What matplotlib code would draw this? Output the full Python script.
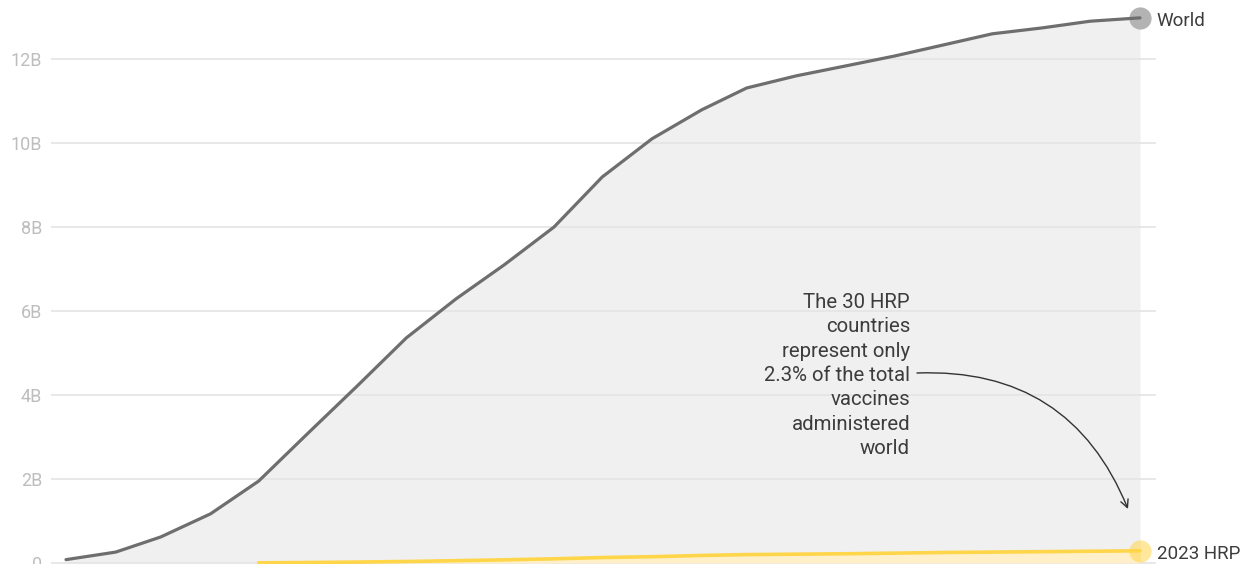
import datetime as dt
import matplotlib
matplotlib.use("Agg")
import matplotlib.pyplot as plt
import matplotlib.dates as mdates

plt.rcParams["font.family"] = ["Roboto", "DejaVu Sans"]

nan = float("nan")

# cumulative doses administered, first day of each month, in billions
months = [dt.date(2021 + (m // 12), m % 12 + 1, 1) for m in range(23)]
world = [0.08, 0.26, 0.62, 1.17, 1.95, 3.10, 4.20, 5.36, 6.29, 7.10, 8.00, 9.19,
         10.10, 10.79, 11.31, 11.60, 11.83, 12.07, 12.33, 12.60, 12.74, 12.90, 12.98]
hrp = [nan, nan, nan, nan, 0.004, 0.012, 0.022, 0.036, 0.055, 0.075, 0.10, 0.13,
       0.15, 0.18, 0.20, 0.21, 0.22, 0.235, 0.25, 0.26, 0.27, 0.28, 0.29]
ytick_vals = [0, 2, 4, 6, 8, 10, 12]
ytick_labels = ["0", "2B", "4B", "6B", "8B", "10B", "12B"]

W, H = 1247, 564
fig = plt.figure(figsize=(W / 100, H / 100), dpi=100)
ax = fig.add_axes([51 / W, 0, (1156 - 51) / W, 1])

x = mdates.date2num(months)
px_per_day = 1074 / (x[-1] - x[0])
ax.set_xlim(x[0] - 15 / px_per_day, x[-1] + 16 / px_per_day)
ax.set_ylim(-1 / 42, 563 / 42)

ax.fill_between(x, 0, world, color="#f0f0f0", lw=0, zorder=1)
ax.fill_between(x, 0, hrp, color="#fff0c9", lw=0, zorder=2.5)
for v in ytick_vals:
    ax.axhline(v, color="#e6e6e6", lw=1.3, zorder=2)

ax.plot(x, world, color="#6e6e6e", lw=2.3, zorder=4, solid_capstyle="round")
ax.plot(x, hrp, color="#ffd54a", lw=2.6, zorder=4, solid_capstyle="round")

ax.plot(x[-1], world[-1], "o", ms=16, color="#b3b3b3", mec="none", zorder=3, clip_on=False)
ax.plot(x[-1], hrp[-1], "o", ms=16, color="#ffd54a", alpha=0.55, mec="none", zorder=5,
        clip_on=False)

ax.annotate("World", (x[-1], world[-1]), xytext=(12, -2), textcoords="offset points",
            ha="left", va="center", fontsize=13.5, color="#3c3c3c", annotation_clip=False)
ax.annotate("2023 HRP", (x[-1], hrp[-1]), xytext=(12, -2), textcoords="offset points",
            ha="left", va="center", fontsize=13.5, color="#3c3c3c", annotation_clip=False)

note_x = x[0] + (910 - 66) / px_per_day
ax.text(note_x, (563 - 375.5) / 42,
        "The 30 HRP\ncountries\nrepresent only\n2.3% of the total\nvaccines\nadministered\nworld",
        ha="right", va="center", fontsize=14.7, color="#3c3c3c", linespacing=1.35, zorder=6)
ax.annotate("", xy=(x[0] + (1128 - 66) / px_per_day, (563 - 509) / 42),
            xytext=(x[0] + (917 - 66) / px_per_day, (563 - 373) / 42),
            arrowprops=dict(arrowstyle="->", color="#333333", lw=1.0,
                            connectionstyle="arc3,rad=-0.35", shrinkA=0, shrinkB=0,
                            mutation_scale=14),
            zorder=6)

ax.set_yticks(ytick_vals)
ax.set_yticklabels(ytick_labels)
ax.tick_params(axis="y", length=0, pad=6.5, labelsize=13, labelcolor="#bdbdbd")
ax.set_xticks([])
for s in ax.spines.values():
    s.set_visible(False)

fig.savefig("out.png", dpi=100)
